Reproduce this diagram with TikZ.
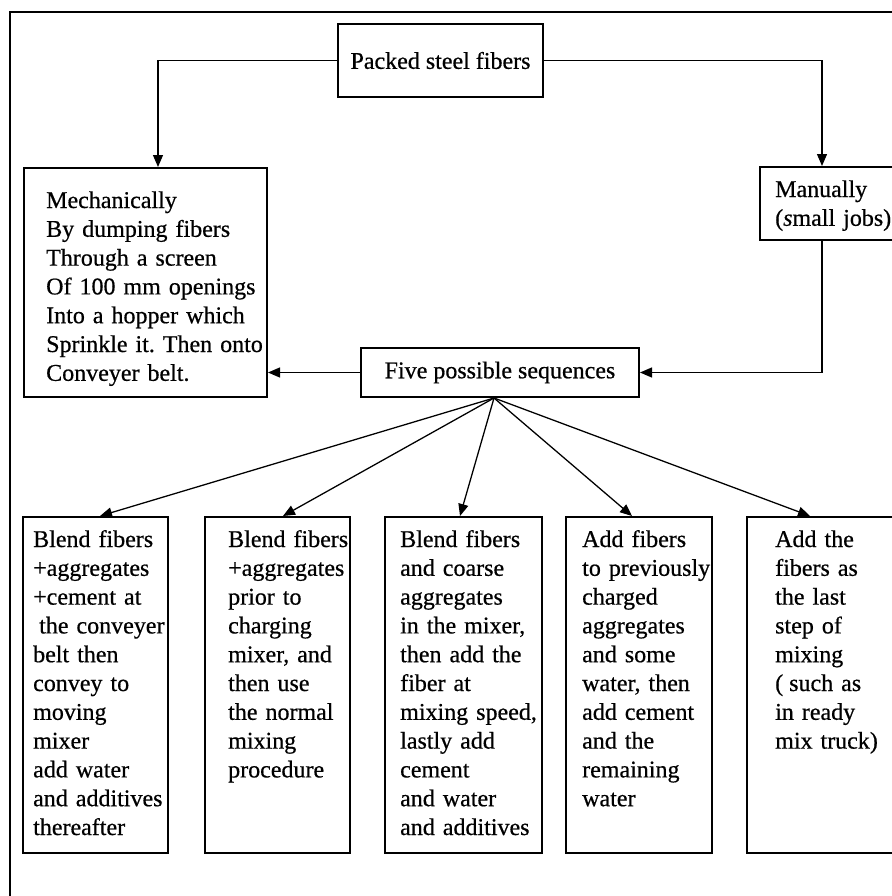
\documentclass[tikz,border=0pt]{standalone}
\usepackage{fontspec}
\setmainfont{Liberation Serif}[FakeBold=0.6]
\usetikzlibrary{calc,arrows.meta}
\tikzset{
	box/.style={draw, line width=0.7mm, inner sep=0},
	txt/.style={inner sep=0, anchor=base west, align=left, text width=300pt},
	arr/.style={line width=0.45mm, -{Triangle[length=12pt,width=10pt]}}
}
\frenchspacing

\begin{document}
\begin{tikzpicture}[x=1pt, y=-1pt, font=\fontsize{24}{28.8}\selectfont]
		%%%%% FRAME %%%%%
		\useasboundingbox (0, 0) rectangle (891, 896);
		\draw[line width=0.5mm] (10, 905) -- (10, 12) -- (900, 12);
		
		%%%%% UPPER BOXES %%%%%
		\node[box, minimum width=205, minimum height=73] (packed) at (440.5, 60.5) {Packed steel fibers};
		\node[box, minimum width=243, minimum height=229] (mech) at (145.5, 282.5) {};
		\node[box, minimum width=136, minimum height=73] (man) at (828, 203.5) {};
		\node[box, minimum width=278, minimum height=49] (five) at (500, 372.5) {Five possible sequences};
		
		\node[txt] (mechtxt) at (46, 208) {Mechanically\\By dumping fibers\\Through a screen\\Of 100 mm openings\\Into a hopper which\\Sprinkle it. Then onto\\Conveyer belt.};
		\node[txt] (mantxt) at (775, 197) {Manually\\(\textit{s}mall jobs)};
		
		%%%%% LOWER BOXES %%%%%
		\node[box, minimum width=145, minimum height=336] (seqa) at (95.5, 685) {};
		\node[box, minimum width=145, minimum height=336] (seqb) at (277.5, 685) {};
		\node[box, minimum width=157, minimum height=336] (seqc) at (463.5, 685) {};
		\node[box, minimum width=146, minimum height=336] (seqd) at (639, 685) {};
		\node[box, minimum width=149, minimum height=336] (seqe) at (821.5, 685) {};
		
		\node[txt] (txta) at (33, 547) {Blend fibers\\+aggregates\\+cement at\\\hspace*{6pt}the conveyer\\belt then\\convey to\\moving\\mixer\\add water\\and additives\\thereafter};
		\node[txt] (txtb) at (228, 547) {Blend fibers\\+aggregates\\prior to\\charging\\mixer, and\\then use\\the normal\\mixing\\procedure};
		\node[txt] (txtc) at (400, 547) {Blend fibers\\and coarse\\aggregates\\in the mixer,\\then add the\\fiber at\\mixing speed,\\lastly add\\cement\\and water\\and additives};
		\node[txt] (txtd) at (582, 547) {Add fibers\\to previously\\charged\\aggregates\\and some\\water, then\\add cement\\and the\\remaining\\water};
		\node[txt] (txte) at (775, 547) {Add the\\fibers as\\the last\\step of\\mixing\\(\hspace*{6pt}such as\\in ready\\mix truck)};
		
		%%%%% ARROWS %%%%%
		\draw[arr] (packed.west) -| ([xshift=12.5]mech.north);
		\draw[arr] (packed.east) -| ([xshift=-6]man.north);
		\draw[arr] ([xshift=-6]man.south) |- (five.east);
		\draw[arr] (five.west) -- (five.west -| mech.east);
		
		\foreach \seq/\sh in {seqa/4.5, seqb/5.5, seqc/-3.5, seqd/-7, seqe/-11.5}
			\draw[arr] ([xshift=-6]five.south) -- ([xshift=\sh]\seq.north);
		
		%%%%% END %%%%%
	\end{tikzpicture}
\end{document}
